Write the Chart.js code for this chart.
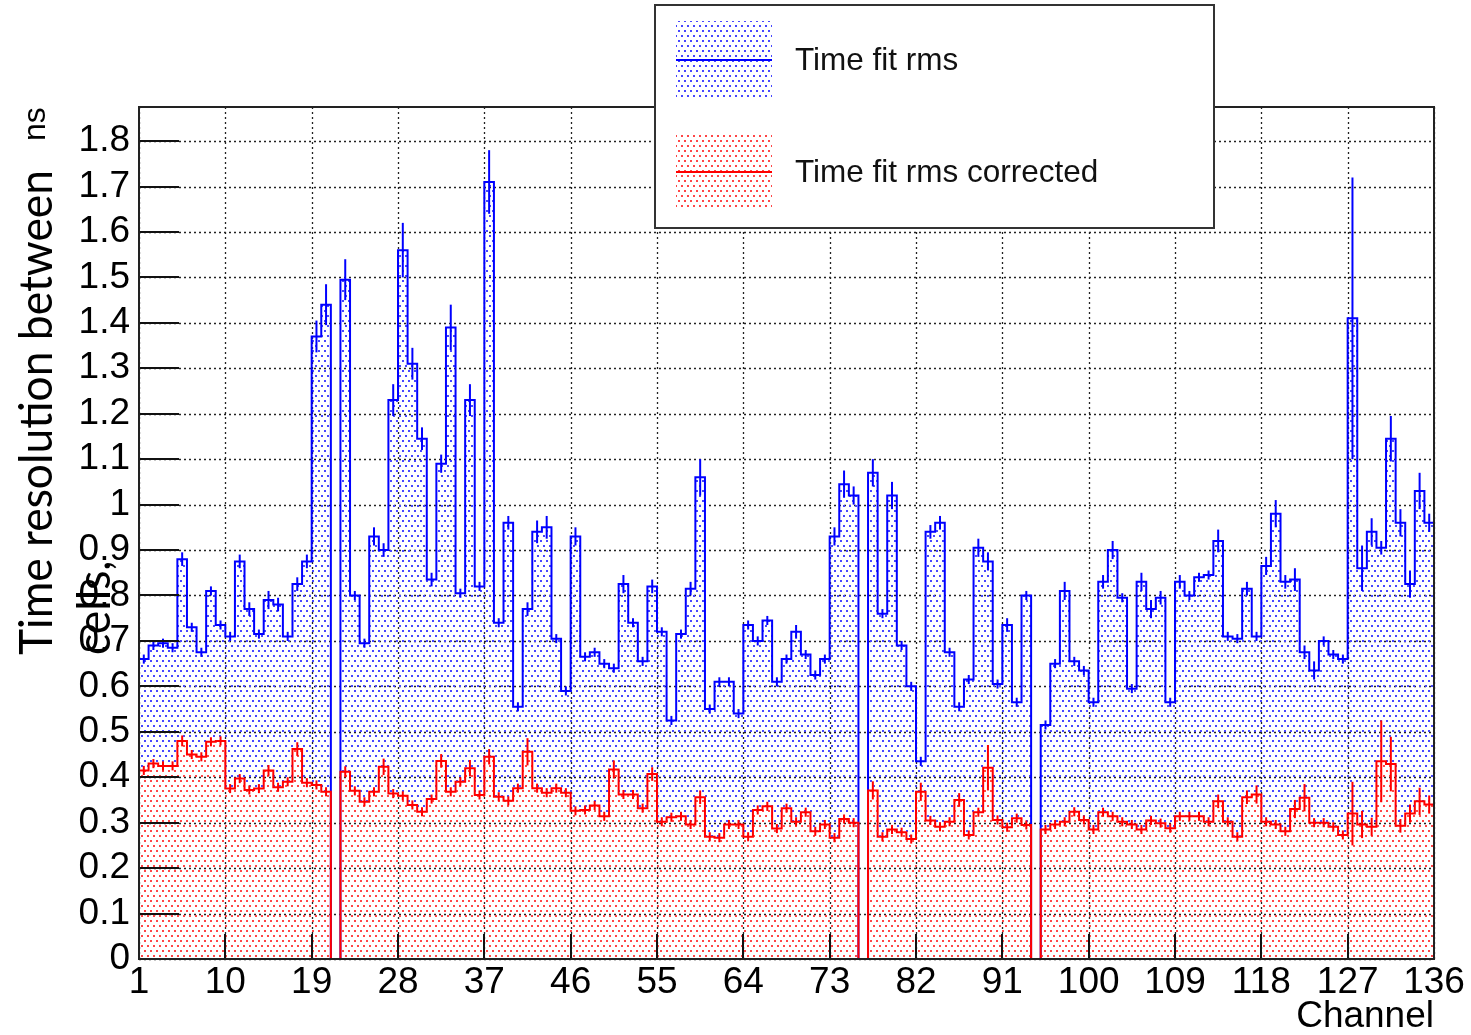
<!DOCTYPE html>
<html>
<head>
<meta charset="utf-8">
<title>Time resolution per channel</title>
<script src="https://cdn.jsdelivr.net/npm/chart.js@4.4.1/dist/chart.umd.min.js"></script>
<style>
  html, body { margin: 0; padding: 0; background: #ffffff; overflow: hidden; }
  #wrap { width: 1471px; height: 1035px; }
</style>
</head>
<body>
<div id="wrap"><canvas id="c" width="1471" height="1035"></canvas></div>
<script>
// Histogram binning: one bin per channel, from channel 1 up to the edge at 136
const firstChannel = 1;
const lastEdge = 136;

// Axis tick labels
const xTickValues = [1, 10, 19, 28, 37, 46, 55, 64, 73, 82, 91, 100, 109, 118, 127, 136];
const yTickValues = [0, 0.1, 0.2, 0.3, 0.4, 0.5, 0.6, 0.7, 0.8, 0.9, 1, 1.1, 1.2, 1.3, 1.4, 1.5, 1.6, 1.7, 1.8];

// Time fit rms per channel (ns)
const rmsValues = [
  0.66, 0.69, 0.695, 0.685, 0.88, 0.73, 0.675, 0.81, 0.735, 0.71,
  0.875, 0.77, 0.715, 0.79, 0.78, 0.71, 0.825, 0.875, 1.37, 1.44,
  0, 1.495, 0.80, 0.695, 0.93, 0.90, 1.23, 1.56, 1.31, 1.145,
  0.835, 1.09, 1.39, 0.805, 1.23, 0.82, 1.71, 0.74, 0.96, 0.555,
  0.77, 0.94, 0.95, 0.705, 0.59, 0.93, 0.665, 0.675, 0.65, 0.64,
  0.825, 0.74, 0.655, 0.82, 0.72, 0.525, 0.715, 0.815, 1.06, 0.55,
  0.61, 0.61, 0.54, 0.735, 0.70, 0.745, 0.61, 0.66, 0.72, 0.67,
  0.625, 0.66, 0.93, 1.045, 1.02, 0, 1.07, 0.76, 1.02, 0.69,
  0.60, 0.435, 0.94, 0.96, 0.675, 0.555, 0.615, 0.905, 0.875, 0.605,
  0.735, 0.565, 0.80, 0, 0.515, 0.65, 0.81, 0.655, 0.635, 0.565,
  0.83, 0.90, 0.795, 0.595, 0.83, 0.77, 0.795, 0.565, 0.83, 0.80,
  0.84, 0.845, 0.92, 0.71, 0.705, 0.815, 0.71, 0.865, 0.98, 0.83,
  0.835, 0.675, 0.635, 0.70, 0.67, 0.66, 1.41, 0.86, 0.94, 0.905,
  1.145, 0.96, 0.825, 1.03, 0.96
];
const rmsErrors = [
  0.01, 0.01, 0.01, 0.01, 0.015, 0.01, 0.01, 0.01, 0.01, 0.01,
  0.015, 0.015, 0.01, 0.02, 0.015, 0.01, 0.015, 0.015, 0.035, 0.045,
  0, 0.045, 0.01, 0.01, 0.02, 0.015, 0.035, 0.06, 0.035, 0.025,
  0.015, 0.02, 0.05, 0.01, 0.035, 0.01, 0.07, 0.01, 0.015, 0.01,
  0.015, 0.025, 0.025, 0.01, 0.01, 0.02, 0.01, 0.01, 0.01, 0.01,
  0.02, 0.01, 0.01, 0.015, 0.01, 0.01, 0.01, 0.015, 0.04, 0.01,
  0.01, 0.01, 0.01, 0.01, 0.01, 0.01, 0.01, 0.01, 0.015, 0.01,
  0.01, 0.01, 0.02, 0.03, 0.02, 0, 0.03, 0.01, 0.03, 0.01,
  0.01, 0.01, 0.015, 0.015, 0.01, 0.01, 0.01, 0.02, 0.02, 0.01,
  0.015, 0.01, 0.01, 0, 0.01, 0.01, 0.02, 0.01, 0.01, 0.01,
  0.015, 0.02, 0.01, 0.01, 0.02, 0.02, 0.015, 0.01, 0.015, 0.01,
  0.01, 0.01, 0.025, 0.01, 0.01, 0.015, 0.01, 0.02, 0.03, 0.015,
  0.025, 0.015, 0.02, 0.01, 0.01, 0.01, 0.31, 0.05, 0.03, 0.015,
  0.05, 0.03, 0.03, 0.04, 0.02
];

// Time fit rms after correction (ns)
const correctedValues = [
  0.415, 0.43, 0.425, 0.425, 0.48, 0.45, 0.445, 0.478, 0.48, 0.375,
  0.397, 0.372, 0.375, 0.415, 0.378, 0.39, 0.462, 0.388, 0.383, 0.368,
  0, 0.412, 0.37, 0.346, 0.368, 0.423, 0.364, 0.359, 0.339, 0.324,
  0.352, 0.436, 0.368, 0.39, 0.42, 0.361, 0.445, 0.357, 0.348, 0.376,
  0.456, 0.376, 0.366, 0.376, 0.366, 0.326, 0.328, 0.338, 0.314, 0.417,
  0.362, 0.362, 0.332, 0.407, 0.302, 0.312, 0.314, 0.296, 0.356, 0.269,
  0.267, 0.296, 0.296, 0.269, 0.328, 0.336, 0.287, 0.332, 0.302, 0.323,
  0.281, 0.296, 0.267, 0.308, 0.30, 0, 0.371, 0.269, 0.285, 0.279,
  0.264, 0.368, 0.305, 0.291, 0.302, 0.35, 0.273, 0.323, 0.421, 0.306,
  0.29, 0.31, 0.295, 0, 0.285, 0.296, 0.302, 0.324, 0.306, 0.285,
  0.323, 0.314, 0.302, 0.296, 0.285, 0.305, 0.299, 0.288, 0.314, 0.314,
  0.314, 0.302, 0.347, 0.302, 0.269, 0.356, 0.362, 0.302, 0.296, 0.281,
  0.33, 0.355, 0.30, 0.30, 0.291, 0.273, 0.32, 0.296, 0.291, 0.435,
  0.429, 0.293, 0.32, 0.347, 0.34
];
const correctedErrors = [
  0.01, 0.01, 0.01, 0.01, 0.012, 0.01, 0.01, 0.01, 0.01, 0.01,
  0.01, 0.01, 0.01, 0.012, 0.01, 0.01, 0.015, 0.01, 0.01, 0.01,
  0, 0.012, 0.01, 0.01, 0.01, 0.018, 0.01, 0.01, 0.01, 0.01,
  0.01, 0.015, 0.01, 0.01, 0.018, 0.01, 0.017, 0.01, 0.01, 0.01,
  0.03, 0.01, 0.01, 0.01, 0.01, 0.01, 0.01, 0.01, 0.01, 0.02,
  0.01, 0.01, 0.01, 0.015, 0.01, 0.01, 0.01, 0.01, 0.015, 0.01,
  0.01, 0.01, 0.01, 0.01, 0.01, 0.01, 0.01, 0.01, 0.01, 0.01,
  0.01, 0.01, 0.01, 0.01, 0.01, 0, 0.02, 0.01, 0.01, 0.01,
  0.01, 0.02, 0.01, 0.01, 0.01, 0.015, 0.01, 0.01, 0.05, 0.01,
  0.01, 0.01, 0.01, 0, 0.01, 0.01, 0.01, 0.01, 0.01, 0.01,
  0.01, 0.01, 0.01, 0.01, 0.01, 0.01, 0.01, 0.01, 0.01, 0.01,
  0.01, 0.01, 0.015, 0.01, 0.01, 0.015, 0.02, 0.01, 0.01, 0.01,
  0.02, 0.03, 0.01, 0.01, 0.01, 0.01, 0.07, 0.03, 0.02, 0.09,
  0.06, 0.015, 0.02, 0.03, 0.02
];

const seriesLabels = ['Time fit rms', 'Time fit rms corrected'];
const yTitleLines = ['Time resolution between', 'cells,'];
const yTitleUnit = 'ns';
const xTitle = 'Channel';

const canvas = document.getElementById('c');
const ctx = canvas.getContext('2d');

// Dotted fill used for both histograms; whole-pixel dots on a shared lattice,
// so the histogram drawn later hides the dots of the one underneath
function dotPattern(color) {
  const tile = document.createElement('canvas');
  tile.width = 6; tile.height = 10;
  const g = tile.getContext('2d');
  g.fillStyle = color;
  g.fillRect(0, 0, 2, 2);
  g.fillRect(3, 5, 2, 2);
  return ctx.createPattern(tile, 'repeat');
}

// Step outline: one point per lower bin edge plus the closing upper edge
function stepPoints(values) {
  const pts = values.map((v, i) => ({ x: firstChannel + i, y: v }));
  pts.push({ x: lastEdge, y: values[values.length - 1] });
  return pts;
}

const blue = '#0000ff';
const red = '#ff0000';

const datasets = [
  {
    label: seriesLabels[0], data: stepPoints(rmsValues), errors: rmsErrors, values: rmsValues,
    borderColor: blue, backgroundColor: dotPattern('rgb(70,70,255)'), borderWidth: 2,
    stepped: 'before', fill: 'origin', pointRadius: 0, order: 2,
    borderJoinStyle: 'miter', borderCapStyle: 'butt'
  },
  {
    label: seriesLabels[1], data: stepPoints(correctedValues), errors: correctedErrors, values: correctedValues,
    borderColor: red, backgroundColor: dotPattern('rgb(255,70,70)'), borderWidth: 2,
    stepped: 'before', fill: 'origin', pointRadius: 0, order: 1,
    borderJoinStyle: 'miter', borderCapStyle: 'butt'
  }
];

const tickFont = { family: '"Liberation Sans", Arial, sans-serif', size: 37 };

// Dotted grid under the histograms
const gridPlugin = {
  id: 'dottedGrid',
  beforeDatasetsDraw(chart) {
    const { ctx, chartArea: a, scales: { x, y } } = chart;
    ctx.save();
    ctx.strokeStyle = '#222';
    ctx.lineWidth = 1.3;
    ctx.setLineDash([2, 3]);
    x.ticks.forEach(t => {
      const px = Math.round(x.getPixelForValue(t.value)) + 0.5;
      ctx.beginPath(); ctx.moveTo(px, a.top); ctx.lineTo(px, a.bottom); ctx.stroke();
    });
    y.ticks.forEach(t => {
      const py = Math.round(y.getPixelForValue(t.value)) + 0.5;
      ctx.beginPath(); ctx.moveTo(a.left, py); ctx.lineTo(a.right, py); ctx.stroke();
    });
    ctx.restore();
  }
};

// Error bars, frame, tick marks, legend and axis title
const overlayPlugin = {
  id: 'overlay',
  afterDatasetsDraw(chart) {
    const { ctx, chartArea: a, scales: { x, y } } = chart;
    ctx.save();
    // error bars at bin centres
    chart.data.datasets.forEach(ds => {
      ctx.strokeStyle = ds.borderColor;
      ctx.lineWidth = 2;
      ds.values.forEach((v, i) => {
        if (v <= 0) return;
        const px = x.getPixelForValue(firstChannel + i + 0.5);
        ctx.beginPath();
        ctx.moveTo(px, y.getPixelForValue(v - ds.errors[i]));
        ctx.lineTo(px, y.getPixelForValue(v + ds.errors[i]));
        ctx.stroke();
      });
    });
    // tick marks drawn inside the frame
    ctx.strokeStyle = '#111';
    ctx.lineWidth = 2;
    y.ticks.forEach(t => {
      const py = Math.round(y.getPixelForValue(t.value));
      ctx.beginPath(); ctx.moveTo(a.left, py); ctx.lineTo(a.left + 40, py); ctx.stroke();
    });
    x.ticks.forEach(t => {
      const px = Math.round(x.getPixelForValue(t.value));
      ctx.beginPath(); ctx.moveTo(px, a.bottom); ctx.lineTo(px, a.bottom - 25); ctx.stroke();
    });
    // frame
    ctx.strokeStyle = '#222';
    ctx.lineWidth = 2;
    ctx.strokeRect(a.left, a.top, a.right - a.left, a.bottom - a.top);

    // legend box
    const L = { x: 655, y: 5, w: 559, h: 223 };
    ctx.fillStyle = '#ffffff';
    ctx.fillRect(L.x, L.y, L.w, L.h);
    ctx.strokeStyle = '#333';
    ctx.lineWidth = 2;
    ctx.strokeRect(L.x, L.y, L.w, L.h);
    const rows = [{ top: 21, mid: 60 }, { top: 133, mid: 172 }];
    chart.data.datasets.forEach((ds, k) => {
      const r = rows[k];
      ctx.fillStyle = ds.backgroundColor;
      ctx.fillRect(676, r.top, 96, 77);
      ctx.strokeStyle = ds.borderColor;
      ctx.lineWidth = 2;
      ctx.beginPath(); ctx.moveTo(676, r.mid); ctx.lineTo(772, r.mid); ctx.stroke();
      ctx.fillStyle = '#111';
      ctx.font = '31.5px "Liberation Sans", Arial, sans-serif';
      ctx.textAlign = 'left';
      ctx.textBaseline = 'middle';
      ctx.fillText(ds.label, 795, r.mid + 1);
    });

    // rotated y-axis title
    ctx.fillStyle = '#000';
    ctx.textAlign = 'left';
    ctx.textBaseline = 'alphabetic';
    ctx.font = '47px Lato, "Open Sans", sans-serif';
    const squeeze = 485 / ctx.measureText(yTitleLines[0]).width;
    [[52, yTitleLines[0]], [110, yTitleLines[1]]].forEach(([bx, txt]) => {
      ctx.save();
      ctx.translate(bx, 655);
      ctx.rotate(-Math.PI / 2);
      ctx.scale(squeeze, 1);
      ctx.fillText(txt, 0, 0);
      ctx.restore();
    });
    ctx.save();
    ctx.font = '32px "Liberation Sans", Arial, sans-serif';
    ctx.translate(45, 141);
    ctx.rotate(-Math.PI / 2);
    ctx.fillText(yTitleUnit, 0, 0);
    ctx.restore();

    ctx.restore();
  }
};

new Chart(ctx, {
  type: 'line',
  data: { datasets },
  options: {
    responsive: false,
    animation: false,
    devicePixelRatio: 1,
    layout: { padding: { left: 0, top: 107, right: 37, bottom: 0 } },
    plugins: { legend: { display: false }, tooltip: { enabled: false } },
    scales: {
      x: {
        type: 'linear', min: firstChannel, max: lastEdge,
        afterBuildTicks: s => { s.ticks = xTickValues.map(v => ({ value: v })); },
        afterFit: s => { s.height = 76; },
        grid: { display: false, drawTicks: false },
        border: { display: false },
        ticks: { font: tickFont, color: '#000', padding: 2, maxRotation: 0, autoSkip: false },
        title: {
          display: true, text: xTitle, align: 'end', color: '#000',
          font: { family: tickFont.family, size: 37, lineHeight: 1 }, padding: { top: 0, bottom: 0 }
        }
      },
      y: {
        type: 'linear', min: 0, max: 1.875,
        afterBuildTicks: s => { s.ticks = yTickValues.map(v => ({ value: v })); },
        afterFit: s => { s.width = 139; },
        grid: { display: false, drawTicks: false },
        border: { display: false },
        ticks: {
          font: tickFont, color: '#000', padding: 9, autoSkip: false,
          callback: v => String(Math.round(v * 10) / 10)
        }
      }
    }
  },
  plugins: [gridPlugin, overlayPlugin]
});
</script>
</body>
</html>
